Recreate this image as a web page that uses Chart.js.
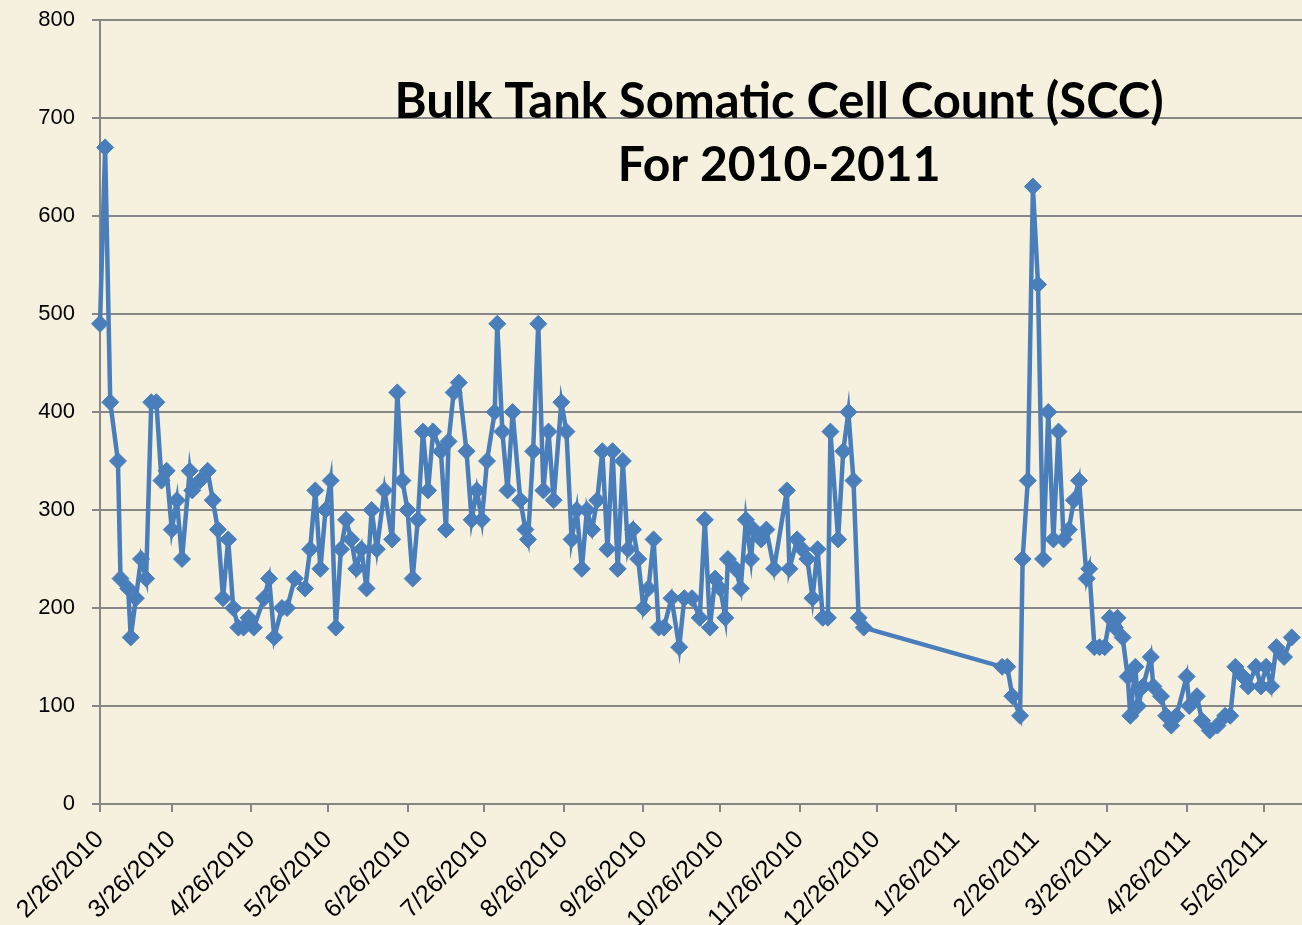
<!DOCTYPE html>
<html>
<head>
<meta charset="utf-8">
<title>Bulk Tank Somatic Cell Count (SCC)</title>
<script src="https://cdn.jsdelivr.net/npm/chart.js@4.4.0/dist/chart.umd.min.js"></script>
<style>
  html, body { margin: 0; padding: 0; background: #f6f1de; }
  canvas { display: block; }
</style>
</head>
<body>
<canvas id="scc" width="1302" height="925"></canvas>
<script>
// first pickup in the series, everything below is counted in days from it
const firstSample = '2/26/2010';

const tickLabels = ['2/26/2010', '3/26/2010', '4/26/2010', '5/26/2010', '6/26/2010', '7/26/2010',
    '8/26/2010', '9/26/2010', '10/26/2010', '11/26/2010', '12/26/2010', '1/26/2011',
    '2/26/2011', '3/26/2011', '4/26/2011', '5/26/2011'];

const sampleDay = [
    0, 2, 4, 7, 8, 11, 12, 14, 16, 18, 20, 22, 24, 26, 28, 30, 32, 35, 36, 39,
    42, 44, 46, 48, 50, 52, 54, 56, 58, 60, 64, 66, 68, 71, 73, 76, 80, 82, 84, 86,
    88, 90, 92, 94, 96, 98, 100, 102, 104, 106, 108, 111, 114, 116, 118, 120, 122, 124, 126, 128,
    130, 133, 135, 136, 138, 140, 143, 145, 147, 149, 151, 154, 155, 157, 159, 161, 164, 166, 167, 169,
    171, 173, 175, 177, 180, 182, 184, 186, 188, 190, 192, 194, 196, 198, 200, 202, 204, 206, 208, 210,
    212, 214, 216, 218, 220, 223, 226, 228, 231, 234, 236, 238, 240, 242, 244, 245, 248, 250, 252, 254,
    255, 258, 260, 263, 268, 269, 272, 274, 276, 278, 280, 282, 284, 285, 288, 290, 292, 294, 296, 298,
    352, 354, 356, 359, 360, 362, 364, 366, 368, 370, 372, 374, 376, 378, 380, 382, 385, 386, 388, 390,
    392, 394, 396, 397, 399, 401, 402, 404, 405, 407, 410, 411, 414, 416, 418, 420, 424, 425, 428, 430,
    433, 436, 439, 441, 443, 446, 448, 451, 453, 455, 457, 459, 462, 465
];

const sccValues = [
    490, 670, 410, 350, 230, 220, 170, 210, 250, 230, 410, 410, 330, 340, 280, 310, 250, 340, 320, 330,
    340, 310, 280, 210, 270, 200, 180, 180, 190, 180, 210, 230, 170, 200, 200, 230, 220, 260, 320, 240,
    300, 330, 180, 260, 290, 270, 240, 260, 220, 300, 260, 320, 270, 420, 330, 300, 230, 290, 380, 320,
    380, 360, 280, 370, 420, 430, 360, 290, 320, 290, 350, 400, 490, 380, 320, 400, 310, 280, 270, 360,
    490, 320, 380, 310, 410, 380, 270, 300, 240, 300, 280, 310, 360, 260, 360, 240, 350, 260, 280, 250,
    200, 220, 270, 180, 180, 210, 160, 210, 210, 190, 290, 180, 230, 220, 190, 250, 240, 220, 290, 250,
    280, 270, 280, 240, 320, 240, 270, 260, 250, 210, 260, 190, 190, 380, 270, 360, 400, 330, 190, 180,
    140, 140, 110, 90, 250, 330, 630, 530, 250, 400, 270, 380, 270, 280, 310, 330, 230, 240, 160, 160,
    160, 190, 180, 190, 170, 130, 90, 140, 100, 120, 150, 120, 110, 90, 80, 90, 130, 100, 110, 85,
    75, 80, 90, 90, 140, 130, 120, 140, 120, 140, 120, 160, 150, 170
];

const titleLines = ['Bulk Tank Somatic Cell Count (SCC)', 'For 2010-2011'];

const BLUE = '#4a7ebb';
const GRID = '#878787';
const FONT = 'Liberation Sans, Arial, sans-serif';

function dayOf(label) {
    const toUtc = s => {
        const [m, d, y] = s.split('/').map(Number);
        return Date.UTC(y, m - 1, d);
    };
    return Math.round((toUtc(label) - toUtc(firstSample)) / 86400000);
}

const tickDays = tickLabels.map(dayOf);

const chartTitle = {
    id: 'chartTitle',
    afterDraw(chart) {
        const { ctx, chartArea } = chart;
        const cx = chartArea.left + (chartArea.right - chartArea.left) * 0.565;
        ctx.save();
        ctx.fillStyle = '#000';
        ctx.textAlign = 'center';
        ctx.textBaseline = 'alphabetic';
        ctx.font = 'bold 49px Lato, sans-serif';
        ctx.fillText(titleLines[0], cx, chartArea.top + 98);
        ctx.font = 'bold 48px Lato, sans-serif';
        ctx.fillText(titleLines[1], cx, chartArea.top + 161);
        ctx.restore();
    }
};

new Chart(document.getElementById('scc'), {
    type: 'line',
    data: {
        datasets: [{
            label: 'SCC',
            data: sampleDay.map((d, i) => ({ x: d, y: sccValues[i] })),
            borderColor: BLUE,
            backgroundColor: BLUE,
            borderWidth: 4.5,
            tension: 0,
            clip: false,
            pointStyle: 'rectRot',
            pointRadius: 8.5,
            pointBorderWidth: 1,
            pointBackgroundColor: BLUE,
            pointBorderColor: BLUE
        }]
    },
    options: {
        responsive: false,
        animation: false,
        layout: { autoPadding: false, padding: { top: 20, right: 0, bottom: 0, left: 0 } },
        plugins: {
            legend: { display: false },
            tooltip: { enabled: false }
        },
        scales: {
            x: {
                type: 'linear',
                min: 0,
                max: 469,
                afterBuildTicks: s => { s.ticks = tickDays.map(v => ({ value: v })); },
                afterFit: s => { s.height = 121; s.paddingLeft = 0; s.paddingRight = 0; },
                grid: { drawOnChartArea: false, drawTicks: true, tickLength: 8, color: GRID, lineWidth: 2 },
                border: { color: GRID, width: 2 },
                ticks: {
                    autoSkip: false,
                    minRotation: 45,
                    maxRotation: 45,
                    padding: 13,
                    color: '#000',
                    font: { family: FONT, size: 25 },
                    callback: (v, i) => tickLabels[i]
                }
            },
            y: {
                min: 0,
                max: 800,
                afterFit: s => { s.width = 100; s.paddingTop = 0; s.paddingBottom = 0; },
                grid: { color: GRID, lineWidth: 2, tickLength: 8 },
                border: { color: GRID, width: 2 },
                ticks: {
                    stepSize: 100,
                    padding: 17,
                    color: '#000',
                    font: { family: FONT, size: 22 }
                }
            }
        }
    },
    plugins: [chartTitle]
});
</script>
</body>
</html>
